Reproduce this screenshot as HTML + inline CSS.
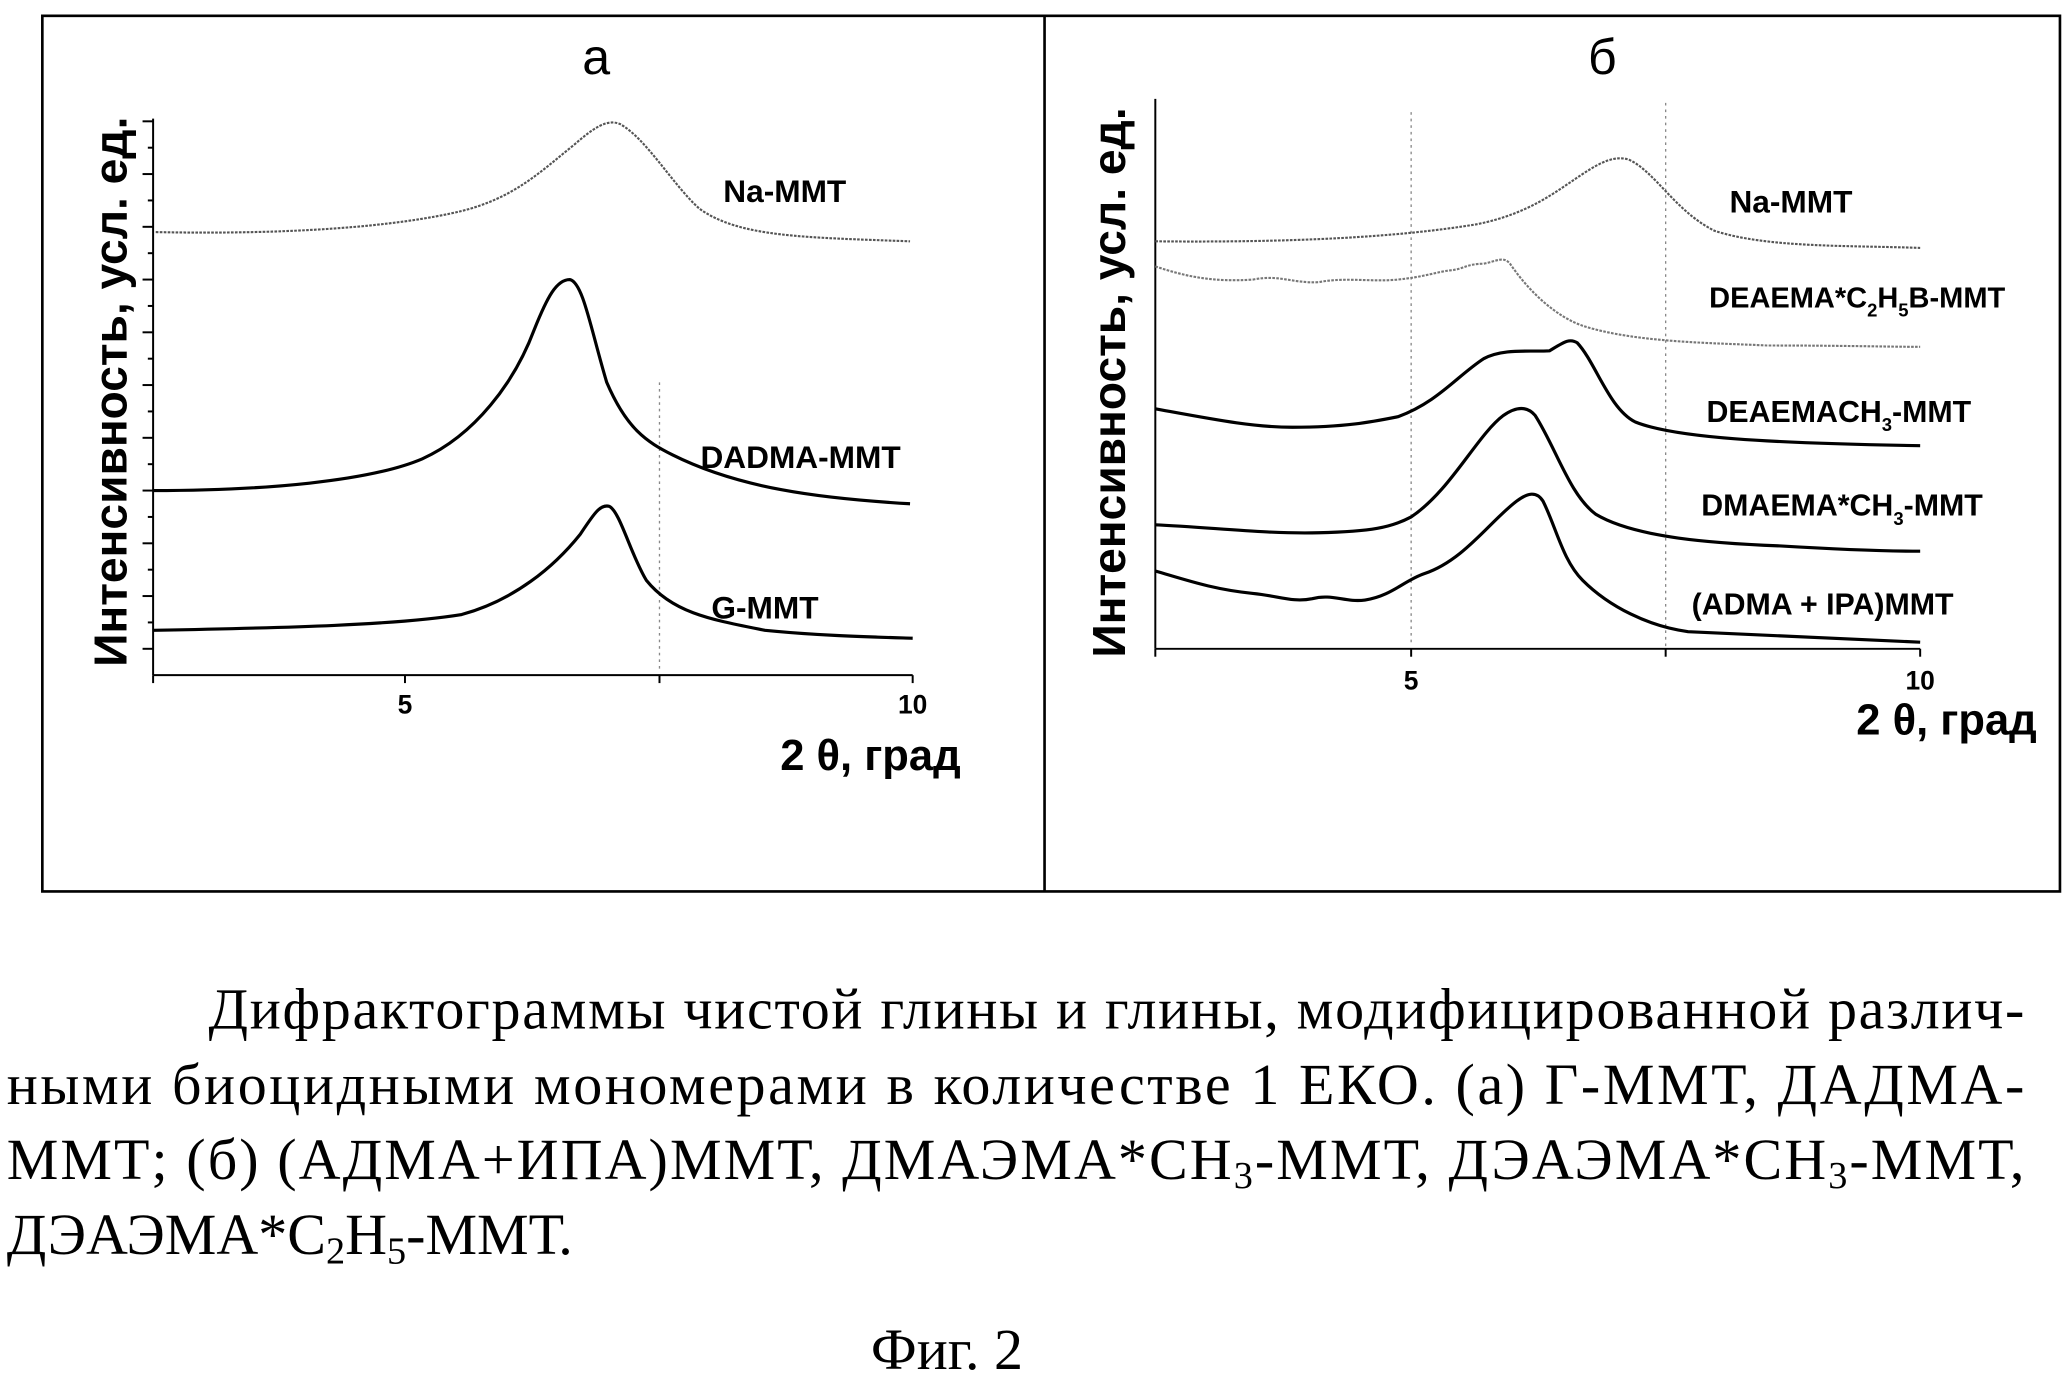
<!DOCTYPE html>
<html><head><meta charset="utf-8"><style>
html,body{margin:0;padding:0;background:#fff;}
svg{display:block;}
.b{font-family:"Liberation Sans",Arial,sans-serif;font-weight:bold;fill:#000;}
.s{font-family:"Liberation Serif","Noto Serif CJK SC",serif;fill:#000;font-size:44px;}
</style></head><body>
<svg width="2068" height="1382" viewBox="0 0 1568 1048" xmlns="http://www.w3.org/2000/svg">
<rect x="32" y="12" width="1530" height="664" fill="none" stroke="#000" stroke-width="2"/>
<line x1="792" y1="12" x2="792" y2="676" stroke="#000" stroke-width="2"/>

<!-- Panel a -->
<text x="452" y="56" class="b" font-size="38" text-anchor="middle" style="font-weight:normal">а</text>
<line x1="116" y1="90" x2="116" y2="512" stroke="#000" stroke-width="1.5"/>
<line x1="116" y1="512" x2="692" y2="512" stroke="#000" stroke-width="1.5"/>
<g stroke="#000" stroke-width="1.5">
<line x1="108" y1="92" x2="116" y2="92"/><line x1="112" y1="112" x2="116" y2="112"/>
<line x1="108" y1="132" x2="116" y2="132"/><line x1="112" y1="152" x2="116" y2="152"/>
<line x1="108" y1="172" x2="116" y2="172"/><line x1="112" y1="192" x2="116" y2="192"/>
<line x1="108" y1="212" x2="116" y2="212"/><line x1="112" y1="232" x2="116" y2="232"/>
<line x1="108" y1="252" x2="116" y2="252"/><line x1="112" y1="272" x2="116" y2="272"/>
<line x1="108" y1="292" x2="116" y2="292"/><line x1="112" y1="312" x2="116" y2="312"/>
<line x1="108" y1="332" x2="116" y2="332"/><line x1="112" y1="352" x2="116" y2="352"/>
<line x1="108" y1="372" x2="116" y2="372"/><line x1="112" y1="392" x2="116" y2="392"/>
<line x1="108" y1="412" x2="116" y2="412"/><line x1="112" y1="432" x2="116" y2="432"/>
<line x1="108" y1="452" x2="116" y2="452"/><line x1="112" y1="472" x2="116" y2="472"/>
<line x1="108" y1="492" x2="116" y2="492"/>
<line x1="116" y1="512" x2="116" y2="518"/><line x1="307" y1="512" x2="307" y2="518"/>
<line x1="500" y1="512" x2="500" y2="518"/><line x1="692" y1="512" x2="692" y2="518"/>
</g>
<line x1="500" y1="290" x2="500" y2="510" stroke="#888" stroke-width="1" stroke-dasharray="2,3"/>
<text x="307" y="541" class="b" font-size="20" text-anchor="middle">5</text>
<text x="692" y="541" class="b" font-size="20" text-anchor="middle">10</text>
<text x="660" y="584" class="b" font-size="33" text-anchor="middle">2 θ, град</text>
<text transform="translate(96,297) rotate(-90)" class="b" font-size="35" text-anchor="middle">Интенсивность, усл. ед.</text>
<path d="M118,176 C220,178 300,172 350,160 C390,150 410,130 435,110 C450,97 460,90 470,94 C490,105 510,140 530,158 C560,180 610,180 690,183" fill="none" stroke="#555" stroke-width="1.6" stroke-dasharray="2,1"/>
<path d="M116,372 C200,372 280,365 320,348 C360,330 390,290 405,250 C415,225 422,212 432,212 C442,214 448,250 460,290 C475,325 490,335 510,345 C560,370 620,378 690,382" fill="none" stroke="#000" stroke-width="2.4"/>
<path d="M116,478 C220,476 300,474 350,466 C390,455 420,430 440,405 C450,390 455,382 462,384 C470,388 478,420 490,440 C510,465 540,470 580,478 C620,482 660,483 692,484" fill="none" stroke="#000" stroke-width="2.4"/>
<text x="595" y="153" class="b" font-size="24" text-anchor="middle">Na-MMT</text>
<text x="607" y="355" class="b" font-size="24" text-anchor="middle">DADMA-MMT</text>
<text x="580" y="469" class="b" font-size="24" text-anchor="middle">G-MMT</text>

<!-- Panel b -->
<text x="1215" y="56" class="b" font-size="38" text-anchor="middle" style="font-weight:normal">б</text>
<line x1="876" y1="75" x2="876" y2="492" stroke="#000" stroke-width="1.5"/>
<line x1="876" y1="492" x2="1456" y2="492" stroke="#000" stroke-width="1.5"/>
<g stroke="#000" stroke-width="1.5">
<line x1="876" y1="492" x2="876" y2="498"/><line x1="1070" y1="492" x2="1070" y2="498"/>
<line x1="1263" y1="492" x2="1263" y2="498"/><line x1="1456" y1="492" x2="1456" y2="498"/>
</g>
<line x1="1070" y1="85" x2="1070" y2="490" stroke="#888" stroke-width="1" stroke-dasharray="2,3"/>
<line x1="1263" y1="78" x2="1263" y2="490" stroke="#888" stroke-width="1" stroke-dasharray="2,3"/>
<text x="1070" y="523" class="b" font-size="20" text-anchor="middle">5</text>
<text x="1456" y="523" class="b" font-size="20" text-anchor="middle">10</text>
<text x="1476" y="557" class="b" font-size="33" text-anchor="middle">2 θ, град</text>
<text transform="translate(853,290) rotate(-90)" class="b" font-size="35" text-anchor="middle">Интенсивность, усл. ед.</text>
<path d="M876,183 C980,184 1060,180 1120,170 C1160,162 1180,145 1200,132 C1215,122 1225,118 1235,121 C1255,130 1270,160 1300,175 C1340,188 1400,186 1456,188" fill="none" stroke="#555" stroke-width="1.6" stroke-dasharray="2,1"/>
<path d="M876,202 C900,210 920,214 950,212 C970,208 980,215 1000,214 C1020,210 1040,214 1060,212 C1080,210 1090,206 1100,205 C1110,204 1112,200 1125,200 C1135,198 1140,194 1145,200 C1160,222 1180,240 1200,247 C1240,260 1300,260 1340,262 C1400,262 1430,263 1456,263" fill="none" stroke="#777" stroke-width="1.6" stroke-dasharray="2,1"/>
<path d="M876,310 C920,318 950,324 980,324 C1020,324 1040,320 1060,316 C1090,305 1105,285 1125,272 C1140,264 1160,267 1175,266 C1185,260 1190,256 1196,260 C1210,275 1220,310 1240,320 C1270,332 1340,336 1456,338" fill="none" stroke="#000" stroke-width="2.4"/>
<path d="M876,398 C920,400 960,405 1000,404 C1040,403 1055,400 1070,392 C1100,372 1120,330 1140,315 C1150,308 1158,308 1164,315 C1180,340 1190,375 1210,390 C1240,408 1300,412 1350,414 C1400,417 1430,418 1456,418" fill="none" stroke="#000" stroke-width="2.4"/>
<path d="M876,433 C900,440 920,447 950,450 C970,452 980,457 995,454 C1010,450 1020,457 1035,455 C1055,452 1065,440 1080,435 C1110,425 1130,395 1150,380 C1158,374 1165,372 1170,380 C1180,400 1185,425 1200,440 C1220,460 1250,475 1280,479 C1340,482 1400,485 1456,487" fill="none" stroke="#000" stroke-width="2.4"/>
<text x="1358" y="161" class="b" font-size="24" text-anchor="middle">Na-MMT</text>
<text x="1296" y="233" class="b" font-size="22">DEAEMA*C<tspan font-size="14" dy="7">2</tspan><tspan dy="-7">H</tspan><tspan font-size="14" dy="7">5</tspan><tspan dy="-7">B-MMT</tspan></text>
<text x="1294" y="320" class="b" font-size="23">DEAEMACH<tspan font-size="14" dy="7">3</tspan><tspan dy="-7">-MMT</tspan></text>
<text x="1290" y="391" class="b" font-size="23">DMAEMA*CH<tspan font-size="14" dy="7">3</tspan><tspan dy="-7">-MMT</tspan></text>
<text x="1382" y="466" class="b" font-size="23" text-anchor="middle">(ADMA + IPA)MMT</text>

<!-- Caption -->
<text x="158" y="780" class="s" textLength="1377" lengthAdjust="spacing">Дифрактограммы чистой глины и глины, модифицированной различ-</text>
<text x="5" y="837" class="s" textLength="1530" lengthAdjust="spacing">ными биоцидными мономерами в количестве 1 ЕКО. (а) Г-ММТ, ДАДМА-</text>
<text x="5" y="894" class="s" textLength="1530" lengthAdjust="spacing">ММТ; (б) (АДМА+ИПА)ММТ, ДМАЭМА*СН<tspan font-size="29" dy="7">3</tspan><tspan dy="-7">-ММТ, ДЭАЭМА*СН</tspan><tspan font-size="29" dy="7">3</tspan><tspan dy="-7">-ММТ,</tspan></text>
<text x="5" y="951" class="s">ДЭАЭМА*С<tspan font-size="29" dy="7">2</tspan><tspan dy="-7">Н</tspan><tspan font-size="29" dy="7">5</tspan><tspan dy="-7">-ММТ.</tspan></text>
<text x="718" y="1038" class="s" text-anchor="middle">Фиг. 2</text>
</svg>
</body></html>
